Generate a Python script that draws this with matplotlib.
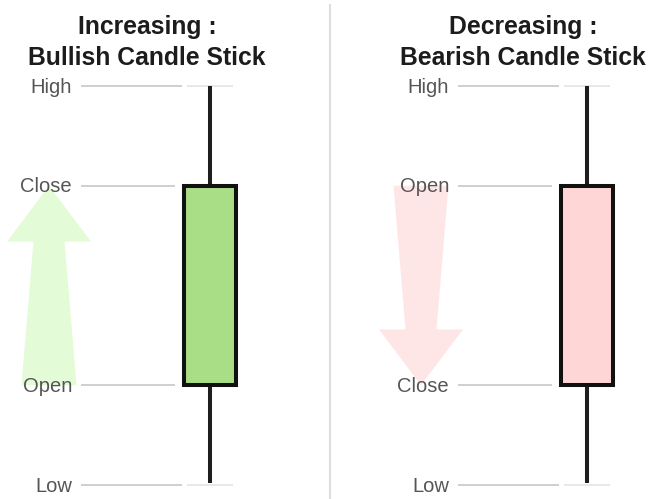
import matplotlib.pyplot as plt
from matplotlib.patches import Polygon

plt.rcParams['font.family'] = ['Liberation Sans', 'DejaVu Sans']

# candle data (price units, low = 0, high = 100)
titles_top = ["Increasing :", "Decreasing :"]
titles_bottom = ["Bullish Candle Stick", "Bearish Candle Stick"]
opens = [25, 75]
closes = [75, 25]
highs = [100, 100]
lows = [0, 0]
body_colors = ["#a9dd86", "#ffd6d6"]
arrow_colors = ["#e3fbd6", "#ffe6e6"]

# layout (pixels across, panel offsets)
offsets = [0, 377]
arrow_cx = [49, 421]
title_cx = [147, 523]
candle_x = 210
candle_w = 52


def to_price(py):
    # pixel row -> price units
    return (485 - py) / 3.99


fig = plt.figure(figsize=(6.49, 4.99), dpi=100)
ax = fig.add_axes([0, 0, 1, 1])
ax.set_xlim(0, 649)
ax.set_ylim(to_price(499), to_price(0))
ax.axis('off')

# divider
ax.plot([330, 330], [to_price(5), to_price(499)], color="#dddddd", lw=1.5)

for i in range(2):
    o, h, l, c = opens[i], highs[i], lows[i], closes[i]
    off = offsets[i]
    cx = candle_x + off

    # arrow from open to close
    d = 1 if c > o else -1
    hl = 14
    neck = c - d * hl
    a = arrow_cx[i]
    pts = [(a, c), (a + 42, neck), (a + 15.5, neck), (a + 27.5, o),
           (a - 27.5, o), (a - 15.5, neck), (a - 42, neck)]
    ax.add_patch(Polygon(pts, closed=True, facecolor=arrow_colors[i],
                         edgecolor='none', zorder=1))

    # guide lines
    ax.hlines([h, l], 81 + off, 182 + off, color="#cccccc", lw=1.3, zorder=2)
    ax.hlines([h, l], cx - 23, cx + 23, color="#e6e6e6", lw=1.3, zorder=2)
    ax.hlines([o, c], 81 + off, 175 + off, color="#cccccc", lw=1.3, zorder=2)

    # wick and body
    ax.vlines(cx, l + 0.6, h, color="#1e1e1e", lw=2.9, zorder=3)
    ax.bar(cx, abs(c - o), bottom=min(o, c), width=candle_w,
           color=body_colors[i], edgecolor="#111111", linewidth=2.9,
           zorder=4)

    # labels
    names = {"High": h, "Low": l, "Open": o, "Close": c}
    for name, val in names.items():
        ax.text(72 + off, val - 0.3, name, ha='right', va='center',
                fontsize=14.5, color="#555555", zorder=5)

    # titles
    ax.text(title_cx[i], to_price(27), titles_top[i], ha='center',
            va='center', fontsize=17.8, fontweight='bold', color="#1c1c1c")
    ax.text(title_cx[i], to_price(58), titles_bottom[i], ha='center',
            va='center', fontsize=17.8, fontweight='bold', color="#1c1c1c")

fig.savefig("out.png", dpi=100)
